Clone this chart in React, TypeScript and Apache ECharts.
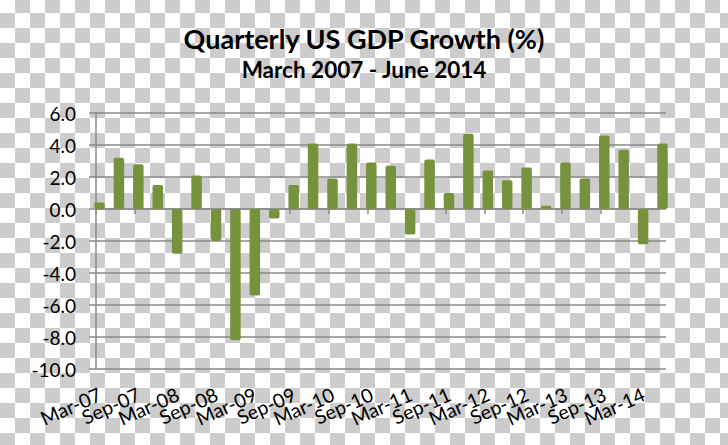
import React, { useEffect, useRef } from 'react';
import * as echarts from 'echarts';

const categories = [
  'Mar-07', 'Jun-07', 'Sep-07', 'Dec-07',
  'Mar-08', 'Jun-08', 'Sep-08', 'Dec-08',
  'Mar-09', 'Jun-09', 'Sep-09', 'Dec-09',
  'Mar-10', 'Jun-10', 'Sep-10', 'Dec-10',
  'Mar-11', 'Jun-11', 'Sep-11', 'Dec-11',
  'Mar-12', 'Jun-12', 'Sep-12', 'Dec-12',
  'Mar-13', 'Jun-13', 'Sep-13', 'Dec-13',
  'Mar-14', 'Jun-14',
];

const gdpGrowth = [
  0.4, 3.2, 2.8, 1.5,
  -2.8, 2.1, -2.0, -8.2,
  -5.4, -0.6, 1.5, 4.1,
  1.9, 4.1, 2.9, 2.7,
  -1.6, 3.1, 1.0, 4.7,
  2.4, 1.8, 2.6, 0.2,
  2.9, 1.9, 4.6, 3.7,
  -2.2, 4.1,
];

const yMin = -10;
const yMax = 6;
const yInterval = 2;

const titleText = 'Quarterly US GDP Growth (%)';
const subtitleText = 'March 2007 - June 2014';

const FONT = 'Lato, "Open Sans", "DejaVu Sans", sans-serif';
const LINE_COLOR = '#8a8a8a';
const BAR_COLOR = '#76923c';

export default function App() {
  const ref = useRef<HTMLDivElement>(null);

  useEffect(() => {
    if (!ref.current) return;
    const chart = echarts.init(ref.current, undefined, { renderer: 'svg' });
    const lineStyle = { color: LINE_COLOR, width: 1.5 };
    chart.setOption({
      animation: false,
      backgroundColor: 'transparent',
      graphic: [
        {
          type: 'text',
          x: 364,
          y: 38,
          style: {
            text: titleText,
            fontFamily: FONT,
            fontWeight: 'bold',
            fontSize: 27,
            fill: '#000',
            align: 'center',
            verticalAlign: 'middle',
          },
        },
        {
          type: 'text',
          x: 364,
          y: 69,
          style: {
            text: subtitleText,
            fontFamily: FONT,
            fontWeight: 'bold',
            fontSize: 22.5,
            fill: '#000',
            align: 'center',
            verticalAlign: 'middle',
          },
        },
      ],
      grid: [
        { left: 96, top: 113, width: 570, height: 256 },
        { left: 96, top: 113, width: 563, height: 256 },
      ],
      xAxis: [
        { gridIndex: 0, type: 'category', data: categories, show: false },
        {
          gridIndex: 1,
          type: 'category',
          data: categories,
          boundaryGap: false,
          position: 'bottom',
          axisLine: { show: true, onZero: true, lineStyle },
          axisTick: { show: true, interval: 1, length: 5, lineStyle },
          axisLabel: { show: false },
          splitLine: { show: false },
        },
        {
          gridIndex: 1,
          type: 'category',
          data: categories,
          boundaryGap: false,
          position: 'bottom',
          axisLine: { show: false, onZero: false },
          axisTick: { show: false },
          splitLine: { show: false },
          axisLabel: {
            interval: 0,
            formatter: (value: string, index: number) => (index % 2 === 0 ? value : ''),
            rotate: 24,
            align: 'right',
            verticalAlign: 'top',
            margin: 15,
            fontSize: 19.5,
            color: '#000',
            fontFamily: FONT,
          },
        },
      ],
      yAxis: [
        {
          gridIndex: 0,
          type: 'value',
          min: yMin,
          max: yMax,
          interval: yInterval,
          axisLine: { show: true, lineStyle },
          axisTick: { show: true, length: 7, lineStyle },
          splitLine: { show: true, lineStyle },
          axisLabel: {
            formatter: (v: number) => v.toFixed(1),
            margin: 20,
            fontSize: 19,
            color: '#000',
            fontFamily: FONT,
          },
        },
        {
          gridIndex: 1,
          type: 'value',
          min: yMin,
          max: yMax,
          interval: yInterval,
          show: false,
        },
      ],
      series: [
        {
          type: 'bar',
          xAxisIndex: 1,
          yAxisIndex: 1,
          data: categories.map(() => null),
          barWidth: 10.5,
          barGap: '-33%',
          silent: true,
        },
        {
          type: 'bar',
          xAxisIndex: 1,
          yAxisIndex: 1,
          data: gdpGrowth,
          barWidth: 10.5,
          clip: false,
          itemStyle: { color: BAR_COLOR, borderRadius: 2 },
        },
      ],
    });
    return () => chart.dispose();
  }, []);

  return (
    <div
      ref={ref}
      style={{
        position: 'fixed',
        left: 0,
        top: 0,
        width: 728,
        height: 445,
        backgroundColor: '#ffffff',
        backgroundImage: 'repeating-conic-gradient(#cccccc 0% 25%, #ffffff 0% 50%)',
        backgroundSize: '30px 30px',
        backgroundPosition: '0px -2px',
      }}
    />
  );
}
